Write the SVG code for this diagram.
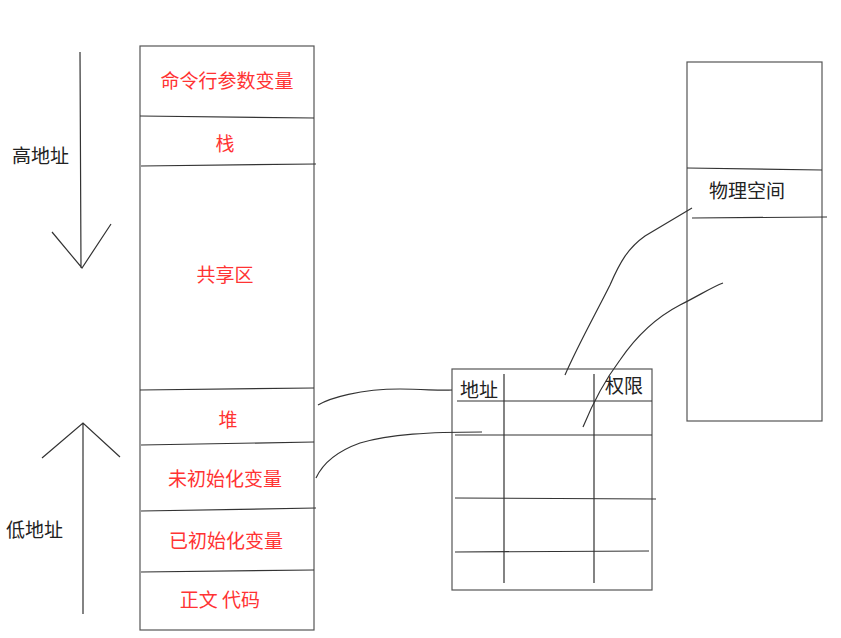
<svg xmlns="http://www.w3.org/2000/svg" width="841" height="638" viewBox="0 0 841 638">
<style>
.ln{stroke:#333;stroke-width:1.2;fill:none}
.lg{stroke:#555;stroke-width:1.2;fill:none}
.red{fill:#ff3333;font-family:"Noto Sans CJK SC","Noto Sans",sans-serif;font-size:19px;text-anchor:middle}
.blk{fill:#222;font-family:"Noto Sans CJK SC","Noto Sans",sans-serif;font-size:19px}
</style>
<rect width="841" height="638" fill="#fff"/>
<g id="address-arrows">
<path class="ln" d="M80 52 L81 268 M52 232 L82 268 L111 224"/>
<path class="ln" d="M83 423 L83 614 M42 458 L83 423 L120 457"/>
<text class="blk" x="12" y="163">高地址</text>
<text class="blk" x="6" y="537">低地址</text>
</g>
<g id="memory-layout">
<rect class="lg" x="140" y="46" width="174" height="584"/>
<path class="ln" d="M140 116 L314 118"/>
<path class="ln" d="M141 166 L316 164"/>
<path class="ln" d="M140 390 L314 388"/>
<path class="ln" d="M141 445 L314 442"/>
<path class="ln" d="M141 511 L316 508"/>
<path class="ln" d="M141 572 L314 570"/>
<text class="red" x="227" y="88">命令行参数变量</text>
<text class="red" x="225" y="151">栈</text>
<text class="red" x="225" y="282">共享区</text>
<text class="red" x="228" y="427">堆</text>
<text class="red" x="225" y="486">未初始化变量</text>
<text class="red" x="226" y="548">已初始化变量</text>
<text class="red" x="220" y="607">正文 代码</text>
</g>
<g id="page-table">
<rect class="lg" x="452" y="369" width="200" height="221"/>
<path class="ln" d="M504 374 L504 583 M594 374 L594 583"/>
<path class="ln" d="M457 401 L652 401"/>
<path class="ln" d="M455 435 L652 435"/>
<path class="ln" d="M455 498 L656 499"/>
<path class="ln" d="M455 552 L649 551"/>
<text class="blk" x="460" y="397">地址</text>
<text class="blk" x="605" y="393">权限</text>
</g>
<g id="physical-space">
<rect class="lg" x="687" y="62" width="135" height="359"/>
<path class="ln" d="M687 168 L822 170"/>
<path class="ln" d="M692 218 L827 217"/>
<text class="blk" x="709" y="198">物理空间</text>
</g>
<g id="connectors">
<path class="ln" d="M318 405 C330 398 360 389 400 389 C425 389 440 391 452 390"/>
<path class="ln" d="M316 478 C322 465 335 452 360 443 C390 434 430 432 482 432"/>
<path class="ln" d="M565 375 C578 345 595 315 610 285 C620 262 628 248 645 236 C665 224 680 215 692 208"/>
<path class="ln" d="M583 427 C592 405 605 380 620 360 C635 338 655 318 680 305 C700 295 712 287 723 283"/>
</g>
</svg>
